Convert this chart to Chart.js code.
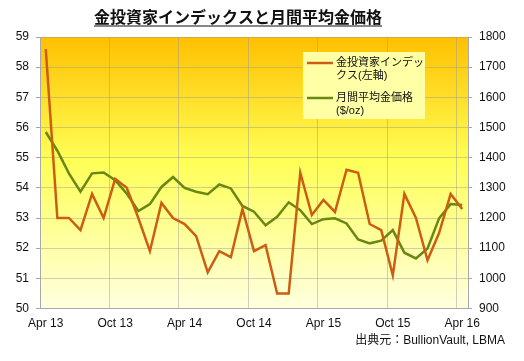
<!DOCTYPE html>
<html>
<head>
<meta charset="utf-8">
<script src="https://cdn.jsdelivr.net/npm/chart.js@4/dist/chart.umd.min.js"></script>
<style>
html, body { margin: 0; padding: 0; background: #fff; }
#wrap { width: 524px; height: 361px; position: relative; }
</style>
</head>
<body>
<div id="wrap"><canvas id="chart" width="524" height="361"></canvas></div>
<script>
// Monthly categories, Apr 2013 - Apr 2016
const months = [
    'Apr 13', 'May 13', 'Jun 13', 'Jul 13', 'Aug 13', 'Sep 13', 'Oct 13', 'Nov 13', 'Dec 13',
    'Jan 14', 'Feb 14', 'Mar 14', 'Apr 14', 'May 14', 'Jun 14', 'Jul 14', 'Aug 14', 'Sep 14',
    'Oct 14', 'Nov 14', 'Dec 14', 'Jan 15', 'Feb 15', 'Mar 15', 'Apr 15', 'May 15', 'Jun 15',
    'Jul 15', 'Aug 15', 'Sep 15', 'Oct 15', 'Nov 15', 'Dec 15', 'Jan 16', 'Feb 16', 'Mar 16',
    'Apr 16'
];

// 金投資家インデックス (left axis)
const investorIndex = [
    58.6, 53.0, 53.0, 52.6, 53.8, 53.0, 54.3, 54.0, 53.0, 51.9, 53.5, 53.0,
    52.8, 52.4, 51.2, 51.9, 51.7, 53.3, 51.9, 52.1, 50.5, 50.5, 54.5, 53.1,
    53.6, 53.2, 54.6, 54.5, 52.8, 52.6, 51.1, 53.8, 53.0, 51.6, 52.5, 53.8,
    53.3
];

// 月間平均金価格 $/oz (right axis)
const goldPrice = [
    1485, 1423, 1348, 1287, 1348, 1351, 1325, 1281, 1223, 1246, 1303, 1336,
    1300, 1287, 1279, 1311, 1298, 1240, 1221, 1176, 1204, 1252, 1226, 1180,
    1196, 1199, 1182, 1129, 1116, 1125, 1160, 1085, 1066, 1099, 1199, 1246,
    1243
];

const leftTicks = { min: 50, max: 59, step: 1 };
const rightTicks = { min: 900, max: 1800, step: 100 };

const titleText = '金投資家インデックスと月間平均金価格';
const sourceText = '出典元：BullionVault, LBMA';
const legendLines = [
    ['金投資家インデッ', 'クス(左軸)'],
    ['月間平均金価格', '($/oz)']
];

const FONT = '"Liberation Sans", "Noto Sans CJK JP", sans-serif';
const ORANGE = '#CC5E14';
const GREEN = '#6A8714';
const GRID = 'rgba(150, 150, 150, 0.45)';
const AXIS = '#a8a8a8';

// Yellow gradient behind the plot + title, legend box and source note
const decorations = {
    id: 'decorations',
    beforeDraw(chart) {
        const { ctx, chartArea: a } = chart;
        const g = ctx.createLinearGradient(0, a.top, 0, a.bottom);
        g.addColorStop(0, '#FFC000');
        g.addColorStop(0.45, '#FFFF55');
        g.addColorStop(1, '#FFFFE0');
        ctx.save();
        ctx.fillStyle = g;
        ctx.fillRect(a.left, a.top, a.right - a.left, a.bottom - a.top);
        ctx.restore();
    },
    afterDraw(chart) {
        const ctx = chart.ctx;
        ctx.save();

        // title, underlined
        ctx.font = 'bold 16px ' + FONT;
        ctx.fillStyle = '#111';
        ctx.textAlign = 'center';
        ctx.textBaseline = 'alphabetic';
        const tx = 238, ty = 23;
        ctx.fillText(titleText, tx, ty);
        const w = ctx.measureText(titleText).width;
        ctx.strokeStyle = '#111';
        ctx.lineWidth = 1.2;
        ctx.beginPath();
        ctx.moveTo(tx - w / 2, ty + 3);
        ctx.lineTo(tx + w / 2, ty + 3);
        ctx.stroke();

        // legend box
        ctx.fillStyle = '#FFFFA6';
        ctx.fillRect(303, 52, 122, 67);
        const colors = [ORANGE, GREEN];
        const rows = [63, 98];
        ctx.font = '11px ' + FONT;
        ctx.textAlign = 'left';
        ctx.textBaseline = 'middle';
        rows.forEach((y, i) => {
            ctx.strokeStyle = colors[i];
            ctx.lineWidth = 2.5;
            ctx.beginPath();
            ctx.moveTo(307, y);
            ctx.lineTo(333, y);
            ctx.stroke();
            ctx.fillStyle = '#111';
            legendLines[i].forEach((t, j) => ctx.fillText(t, 336, y + j * 13));
        });

        // source note
        ctx.font = '12px ' + FONT;
        ctx.textAlign = 'right';
        ctx.textBaseline = 'middle';
        ctx.fillStyle = '#111';
        ctx.fillText(sourceText, 505, 341);
        ctx.restore();
    }
};

new Chart(document.getElementById('chart').getContext('2d'), {
    type: 'line',
    data: {
        labels: months,
        datasets: [{
            label: '金投資家インデックス(左軸)',
            data: investorIndex,
            yAxisID: 'y',
            borderColor: ORANGE,
            borderWidth: 2.5,
            pointRadius: 0,
            tension: 0
        }, {
            label: '月間平均金価格($/oz)',
            data: goldPrice,
            yAxisID: 'y1',
            borderColor: GREEN,
            borderWidth: 2.5,
            pointRadius: 0,
            tension: 0
        }]
    },
    options: {
        responsive: false,
        animation: false,
        layout: { padding: { top: 37, left: 0, right: 0, bottom: 0 } },
        plugins: {
            legend: { display: false },
            tooltip: { enabled: false }
        },
        scales: {
            x: {
                offset: true,
                grid: {
                    offset: true,
                    drawTicks: false,
                    color: c => (c.index !== undefined && c.index % 6 === 0) ? GRID : 'rgba(0,0,0,0)'
                },
                border: { color: AXIS },
                ticks: {
                    autoSkip: false,
                    maxRotation: 0,
                    padding: 8,
                    color: '#111',
                    font: { size: 12, family: FONT },
                    callback: (v, i) => (i % 6 === 0 ? months[i] : '')
                },
                afterFit: s => { s.height = 52.5; }
            },
            y: {
                position: 'left',
                min: leftTicks.min,
                max: leftTicks.max,
                grid: { color: GRID, tickLength: 4, tickColor: AXIS },
                border: { color: AXIS },
                ticks: {
                    stepSize: leftTicks.step,
                    padding: 7,
                    color: '#111',
                    font: { size: 12, family: FONT }
                },
                afterFit: s => { s.width = 40; }
            },
            y1: {
                position: 'right',
                min: rightTicks.min,
                max: rightTicks.max,
                grid: { drawOnChartArea: false, tickLength: 4, tickColor: AXIS },
                border: { color: AXIS },
                ticks: {
                    stepSize: rightTicks.step,
                    padding: 7,
                    color: '#111',
                    font: { size: 12, family: FONT },
                    callback: v => String(v)
                },
                afterFit: s => { s.width = 56; }
            }
        }
    },
    plugins: [decorations]
});
</script>
</body>
</html>
